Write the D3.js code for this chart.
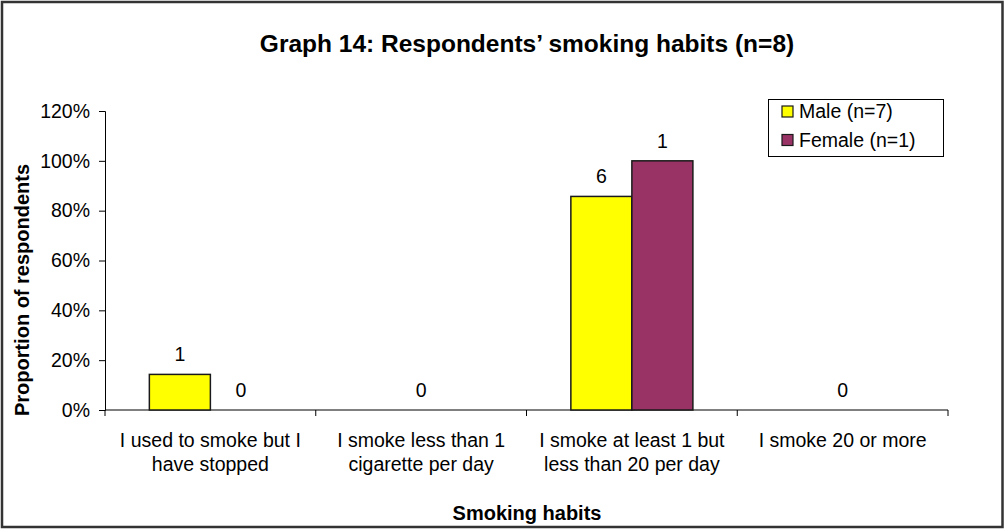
<!DOCTYPE html>
<html>
<head>
<meta charset="utf-8">
<script src="https://cdn.jsdelivr.net/npm/d3@7"></script>
<style>
  html, body { margin: 0; padding: 0; background: #fff; }
  svg { display: block; font-family: "Liberation Sans", Arial, sans-serif; }
</style>
</head>
<body>
<svg id="chart" width="1005" height="529"></svg>
<script>
// Smoking habits categories (two-line labels)
const categories = [
  ["I used to smoke but I", "have stopped"],
  ["I smoke less than 1", "cigarette per day"],
  ["I smoke at least 1 but", "less than 20 per day"],
  ["I smoke 20 or more"]
];
const seriesNames = ["Male (n=7)", "Female (n=1)"];
const seriesTotals = [7, 1];
const maleCounts = [1, 0, 6, 0];
const femaleCounts = [0, 0, 1, 0];
const yTicks = [0, 0.2, 0.4, 0.6, 0.8, 1.0, 1.2];
// Data labels: category index, series index (null = centred on the category)
const labelCategory = [0, 0, 1, 2, 2, 3];
const labelSeries = [0, 1, null, 0, 1, null];

const colors = ["#FFFF00", "#993366"];
const counts = [maleCounts, femaleCounts];

const svg = d3.select("#chart");
const W = 1005, H = 529;
const FS = 19.5;

// outer frame
svg.append("rect")
  .attr("x", 2).attr("y", 2).attr("width", W - 4.5).attr("height", H - 4)
  .attr("fill", "#fff").attr("stroke", "#333").attr("stroke-width", 2.5);

const plot = { left: 105, right: 948, top: 111, bottom: 410 };

const x = d3.scaleBand()
  .domain(d3.range(categories.length))
  .range([plot.left, plot.right])
  .paddingInner(0).paddingOuter(0);

const xInner = d3.scaleBand()
  .domain(d3.range(seriesNames.length))
  .range([0, x.bandwidth()])
  .paddingOuter(0.727)
  .paddingInner(0);

const y = d3.scaleLinear().domain([0, 1.2]).range([plot.bottom, plot.top]);

// title
svg.append("text")
  .attr("x", 527).attr("y", 52)
  .attr("text-anchor", "middle")
  .attr("font-weight", "bold").attr("font-size", 24.5)
  .text("Graph 14: Respondents\u2019 smoking habits (n=8)");

// y axis
const yAxis = d3.axisLeft(y)
  .tickValues(yTicks)
  .tickFormat(d3.format(".0%"))
  .tickSize(6).tickPadding(9);
const gy = svg.append("g")
  .attr("transform", `translate(${plot.left},0)`)
  .call(yAxis);
gy.select(".domain").attr("stroke", "#000");
gy.selectAll(".tick line").attr("stroke", "#000");
gy.selectAll(".tick text").attr("font-size", FS).attr("fill", "#000")
  .attr("font-family", "Liberation Sans, Arial, sans-serif");

// x axis (ticks at category boundaries)
const boundaries = d3.range(categories.length + 1).map(i =>
  i < categories.length ? x(i) : x(categories.length - 1) + x.bandwidth());
const gx = svg.append("g");
gx.append("line")
  .attr("x1", plot.left).attr("x2", plot.right)
  .attr("y1", plot.bottom).attr("y2", plot.bottom)
  .attr("stroke", "#000");
gx.selectAll("line.tk").data(boundaries).join("line")
  .attr("class", "tk")
  .attr("x1", d => d).attr("x2", d => d)
  .attr("y1", plot.bottom).attr("y2", plot.bottom + 6)
  .attr("stroke", "#000");

// category labels
const catLabels = svg.append("g");
categories.forEach((lines, i) => {
  const t = catLabels.append("text")
    .attr("text-anchor", "middle")
    .attr("font-size", FS)
    .attr("x", x(i) + x.bandwidth() / 2)
    .attr("y", 447);
  lines.forEach((ln, k) => {
    t.append("tspan")
      .attr("x", x(i) + x.bandwidth() / 2)
      .attr("dy", k === 0 ? 0 : 24)
      .text(ln);
  });
});

// bars
const bars = [];
counts.forEach((arr, s) => arr.forEach((c, i) => {
  bars.push({ s, i, v: c / seriesTotals[s] });
}));
svg.append("g").selectAll("rect").data(bars.filter(d => d.v > 0)).join("rect")
  .attr("x", d => x(d.i) + xInner(d.s))
  .attr("width", xInner.bandwidth())
  .attr("y", d => y(d.v))
  .attr("height", d => y(0) - y(d.v))
  .attr("fill", d => colors[d.s])
  .attr("stroke", "#1a1a1a").attr("stroke-width", 1.5);

// data labels (counts)
svg.append("g").selectAll("text").data(labelCategory.map((c, k) => ({ c, s: labelSeries[k] })))
  .join("text")
  .attr("text-anchor", "middle")
  .attr("font-size", FS)
  .attr("x", d => d.s === null
    ? x(d.c) + x.bandwidth() / 2
    : x(d.c) + xInner(d.s) + xInner.bandwidth() / 2)
  .attr("y", d => {
    const s = d.s === null ? 0 : d.s;
    return y(counts[s][d.c] / seriesTotals[s]) - 13;
  })
  .text(d => counts[d.s === null ? 0 : d.s][d.c]);

// axis titles
svg.append("text")
  .attr("x", 527).attr("y", 520)
  .attr("text-anchor", "middle")
  .attr("font-weight", "bold").attr("font-size", 20)
  .text("Smoking habits");
svg.append("text")
  .attr("transform", "translate(29,290) rotate(-90)")
  .attr("text-anchor", "middle")
  .attr("font-weight", "bold").attr("font-size", 20)
  .text("Proportion of respondents");

// legend
const lg = svg.append("g");
lg.append("rect")
  .attr("x", 768.5).attr("y", 99.5).attr("width", 175).attr("height", 57)
  .attr("fill", "#fff").attr("stroke", "#000");
seriesNames.forEach((name, s) => {
  const cy = 111 + s * 28.5;
  lg.append("rect")
    .attr("x", 782).attr("y", cy - 5).attr("width", 11).attr("height", 11)
    .attr("fill", colors[s]).attr("stroke", "#1a1a1a").attr("stroke-width", 1.2);
  lg.append("text")
    .attr("x", 799).attr("y", cy + 7)
    .attr("font-size", FS)
    .text(name);
});
</script>
</body>
</html>
